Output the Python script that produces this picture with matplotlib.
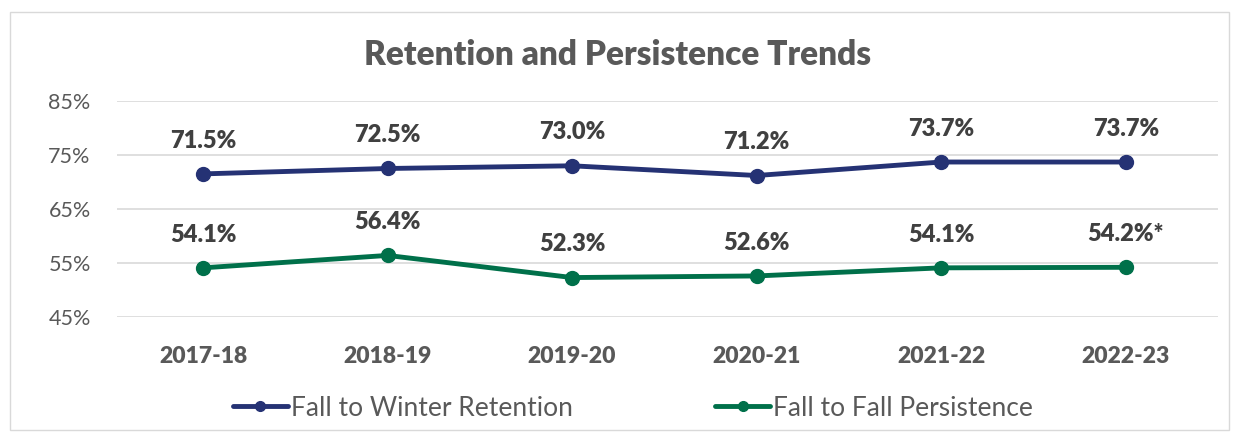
import matplotlib.pyplot as plt
from matplotlib.patches import Rectangle

years = ['2017-18', '2018-19', '2019-20', '2020-21', '2021-22', '2022-23']
retention = [71.5, 72.5, 73.0, 71.2, 73.7, 73.7]
persistence = [54.1, 56.4, 52.3, 52.6, 54.1, 54.2]
retention_labels = ['71.5%', '72.5%', '73.0%', '71.2%', '73.7%', '73.7%']
persistence_labels = ['54.1%', '56.4%', '52.3%', '52.6%', '54.1%', '54.2%*']
yticks = [45, 55, 65, 75, 85]

plt.rcParams['font.family'] = ['Lato', 'DejaVu Sans']

fig = plt.figure(figsize=(12.36, 4.38), dpi=100)
ax = fig.add_axes([0.0947, 0.2763, 0.8907, 0.4931])

blue = '#253274'
green = '#00704A'
text_c = '#404040'

x = list(range(len(years)))
ax.plot(x, retention, color=blue, linewidth=3.5, marker='o', markersize=10,
        label='Fall to Winter Retention', solid_capstyle='round')
ax.plot(x, persistence, color=green, linewidth=3.5, marker='o', markersize=10,
        label='Fall to Fall Persistence', solid_capstyle='round')

for i in x:
    ax.annotate(retention_labels[i], (i, retention[i]), xytext=(0, 24),
                textcoords='offset points', ha='center', va='center',
                fontsize=17, fontweight='heavy', color=text_c)
    ax.annotate(persistence_labels[i], (i, persistence[i]), xytext=(0, 24),
                textcoords='offset points', ha='center', va='center',
                fontsize=17, fontweight='heavy', color=text_c)

ax.set_xlim(-0.466, 5.5)
ax.set_ylim(45, 85)
ax.set_yticks(yticks)
ax.set_yticklabels([f'{v}%' for v in yticks], fontsize=15.5, color='#595959')
ax.set_xticks(x)
ax.set_xticklabels(years, fontsize=16.5, fontweight='heavy', color='#595959')
ax.tick_params(length=0)
ax.tick_params(axis='x', pad=21)
ax.tick_params(axis='y', pad=19)
ax.grid(axis='y', color='#D9D9D9', linewidth=1.2)
ax.set_axisbelow(True)
for s in ax.spines.values():
    s.set_visible(False)

fig.text(0.5, 0.875, 'Retention and Persistence Trends', ha='center', va='center',
         fontsize=24, fontweight='heavy', color='#595959')

leg = fig.legend(loc='center', bbox_to_anchor=(0.512, 0.068), ncol=2, frameon=False,
                 fontsize=19, handlelength=2.1, columnspacing=5.4, handletextpad=0.1,
                 labelcolor='#595959', markerscale=0.7)

fig.patches.append(Rectangle((0.008, 0.018), 0.986, 0.955, transform=fig.transFigure,
                             fill=False, edgecolor='#D9D9D9', linewidth=1))

fig.savefig('out.png', dpi=100)
